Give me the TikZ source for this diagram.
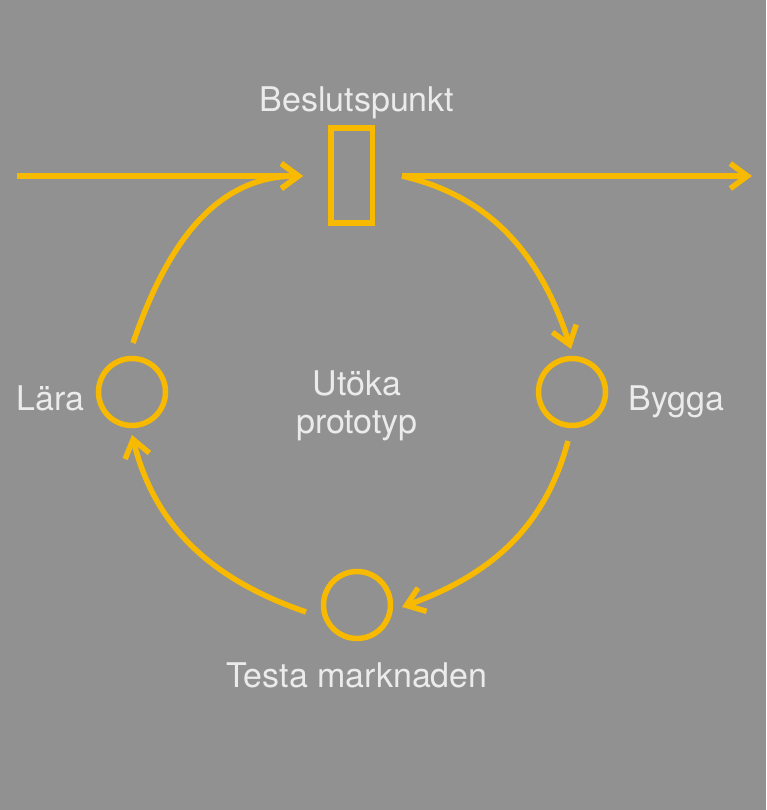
\documentclass[tikz,border=0pt]{standalone}
\usepackage{fontspec}
\setmainfont{TeX Gyre Heros}
\usetikzlibrary{arrows.meta}
\definecolor{bg}{HTML}{919191}
\definecolor{yel}{HTML}{F8BA00}
\definecolor{txt}{HTML}{EBEBEB}
\tikzset{
  flow/.style={draw=yel, line width=5.5pt, -{Straight Barb[length=17pt,width=25pt]}},
  stage/.style={circle, draw=yel, line width=5.5pt, minimum size=67pt, inner sep=0pt},
  gate/.style={rectangle, draw=yel, line width=5.5pt, minimum width=41.5pt, minimum height=95pt, inner sep=0pt},
  lbl/.style={text=txt, font=\fontsize{34}{38}\selectfont, inner sep=0pt, anchor=base, align=center}
}
\begin{document}
\begin{tikzpicture}[x=1pt,y=1pt]
\fill[bg] (0,0) rectangle (766,-810);
\useasboundingbox (0,0) rectangle (766,-810);
% nodes
\node[gate] (bp) at (351.5,-175.5) {};
\node[stage] (lara) at (132,-392) {};
\node[stage] (bygga) at (572,-392) {};
\node[stage] (testa) at (357,-605) {};
% labels
\node[lbl] (tbp) at (357,-112) {Beslutspunkt};
\node[lbl] (tut) at (357,-395) {Utöka};
\node[lbl] (tpr) at (357,-433) {prototyp};
\node[lbl] (tla) at (50.5,-410) {Lära};
\node[lbl] (tby) at (676.5,-410) {Bygga};
\node[lbl] (tte) at (357,-687) {Testa marknaden};
% connector ends
\coordinate (inL) at (17,-176);
\coordinate (outR) at (752,-176);
\coordinate (c1s) at (402,-176);
\coordinate (c1e) at (571,-349);
\coordinate (c2s) at (568,-441);
\coordinate (c2e) at (402,-607);
\coordinate (c3s) at (306,-612);
\coordinate (c3e) at (132,-435);
\coordinate (c4s) at (133,-343);
\coordinate (c4e) at (303,-176);
% connectors
\draw[flow] (inL) -- (c4e);
\draw[flow] (c1s) -- (outR);
\draw[flow] (c1s) to[out=-13,in=108] (c1e);
\draw[flow] (c2s) to[out=-105,in=20] (c2e);
\draw[flow] (c3s) to[out=161,in=-76] (c3e);
\draw[flow] (c4s) to[out=71,in=180] (c4e);
\end{tikzpicture}
\end{document}
